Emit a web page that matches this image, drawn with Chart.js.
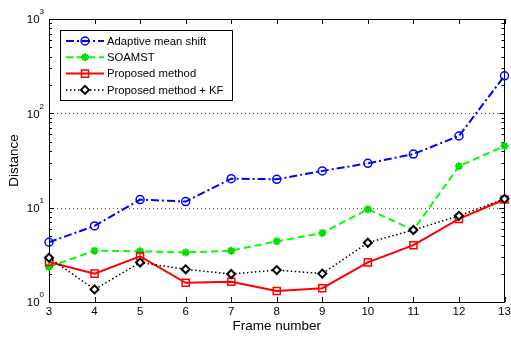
<!DOCTYPE html>
<html>
<head>
<meta charset="utf-8">
<script src="https://cdn.jsdelivr.net/npm/chart.js@4"></script>
<style>
  html, body { margin: 0; padding: 0; background: #fff; }
  #wrap { width: 511px; height: 337px; }
</style>
</head>
<body>
<div id="wrap"><canvas id="distChart" width="511" height="337"></canvas></div>
<script>
// data
var frames = ['3', '4', '5', '6', '7', '8', '9', '10', '11', '12', '13'];
var adaptiveMeanShift = [4.3, 6.4, 12.2, 11.6, 20.3, 20.0, 24.5, 29.5, 37, 57.5, 250];
var soamst = [2.35, 3.5, 3.45, 3.35, 3.5, 4.4, 5.4, 9.6, 5.8, 27.5, 45];
var proposed = [2.65, 2.0, 3.05, 1.6, 1.64, 1.31, 1.4, 2.63, 4.0, 7.6, 12.2];
var proposedKF = [2.95, 1.36, 2.62, 2.22, 1.98, 2.18, 2.0, 4.25, 5.8, 8.2, 12.4];
var yDecades = [1, 10, 100, 1000];

var FONT = '"Liberation Sans", Arial, sans-serif';

// box, inner ticks, dotted decade grid, y tick labels
var matlabAxes = {
  id: 'matlabAxes',
  beforeDatasetsDraw: function(chart) {
    var ctx = chart.ctx, a = chart.chartArea;
    var xs = chart.scales.x, ys = chart.scales.y;
    ctx.save();
    // dotted grid on decades
    ctx.strokeStyle = '#555';
    ctx.lineWidth = 1;
    ctx.setLineDash([1, 3]);
    yDecades.forEach(function(v) {
      var y = Math.round(ys.getPixelForValue(v)) + 0.5;
      if (y > a.top + 1 && y < a.bottom - 1) {
        ctx.beginPath(); ctx.moveTo(a.left, y); ctx.lineTo(a.right, y); ctx.stroke();
      }
    });
    ctx.setLineDash([]);
    ctx.strokeStyle = '#000';
    // x ticks (bottom and top)
    frames.forEach(function(f, i) {
      var x = Math.round(xs.getPixelForValue(i)) + 0.5;
      ctx.beginPath();
      ctx.moveTo(x, a.bottom); ctx.lineTo(x, a.bottom - 5);
      ctx.moveTo(x, a.top); ctx.lineTo(x, a.top + 5);
      ctx.stroke();
    });
    // y ticks, major + minor, left and right
    for (var d = 1; d < 1000; d *= 10) {
      for (var m = 1; m <= 10; m++) {
        var y = Math.round(ys.getPixelForValue(d * m)) + 0.5;
        var len = (m === 1 || m === 10) ? 5 : 3;
        ctx.beginPath();
        ctx.moveTo(a.left, y); ctx.lineTo(a.left + len, y);
        ctx.moveTo(a.right, y); ctx.lineTo(a.right - len, y);
        ctx.stroke();
      }
    }
    // box
    ctx.lineWidth = 1;
    ctx.strokeRect(Math.round(a.left) + 0.5, Math.round(a.top) + 0.5,
                   Math.round(a.right - a.left) - 1, Math.round(a.bottom - a.top));
    // y tick labels 10^n
    ctx.fillStyle = '#000';
    ctx.textBaseline = 'middle';
    yDecades.forEach(function(v, n) {
      var y = ys.getPixelForValue(v);
      ctx.font = '8px ' + FONT;
      ctx.textAlign = 'right';
      var exp = String(n);
      var ew = ctx.measureText(exp).width;
      ctx.fillText(exp, a.left - 5, y - 7);
      ctx.font = '11.5px ' + FONT;
      ctx.fillText('10', a.left - 5 - ew, y + 1);
    });
    ctx.restore();
  }
};

// legend box inside the axes
var matlabLegend = {
  id: 'matlabLegend',
  afterDraw: function(chart) {
    var ctx = chart.ctx;
    var bx = 60, by = 30, bw = 172, bh = 70;
    ctx.save();
    ctx.fillStyle = '#fff';
    ctx.fillRect(bx, by, bw, bh);
    ctx.strokeStyle = '#000';
    ctx.lineWidth = 1;
    ctx.strokeRect(bx + 0.5, by + 0.5, bw, bh);
    chart.data.datasets.forEach(function(ds, i) {
      var y = by + 11 + i * 16.3;
      ctx.strokeStyle = ds.borderColor;
      ctx.lineWidth = ds.borderWidth;
      ctx.setLineDash(ds.borderDash || []);
      ctx.beginPath(); ctx.moveTo(bx + 6, y); ctx.lineTo(bx + 44, y); ctx.stroke();
      ctx.setLineDash([]);
      ctx.fillStyle = ds.pointBackgroundColor;
      ctx.strokeStyle = ds.pointBorderColor;
      ctx.lineWidth = ds.pointBorderWidth;
      Chart.helpers.drawPoint(ctx, {
        pointStyle: ds.pointStyle, radius: ds.pointRadius,
        borderWidth: ds.pointBorderWidth, rotation: 0
      }, bx + 25, y);
      ctx.fillStyle = '#000';
      ctx.font = '11.3px ' + FONT;
      ctx.textAlign = 'left';
      ctx.textBaseline = 'middle';
      ctx.fillText(ds.label, bx + 47, y + 0.5);
    });
    ctx.restore();
  }
};

var ctx = document.getElementById('distChart').getContext('2d');
var myChart = new Chart(ctx, {
  type: 'line',
  data: {
    labels: frames,
    datasets: [{
      label: 'Adaptive mean shift',
      data: adaptiveMeanShift,
      borderColor: '#0000ff',
      borderWidth: 2,
      borderDash: [8, 3, 2, 3],
      pointStyle: 'circle',
      pointRadius: 4,
      pointBorderWidth: 1.5,
      pointBorderColor: '#0000ff',
      pointBackgroundColor: 'rgba(0,0,0,0)',
      order: 3
    }, {
      label: 'SOAMST',
      data: soamst,
      borderColor: '#00ff00',
      borderWidth: 2,
      borderDash: [7, 4],
      pointStyle: 'star',
      pointRadius: 4,
      pointBorderWidth: 2,
      pointBorderColor: '#00dd00',
      pointBackgroundColor: '#00ff00',
      order: 2
    }, {
      label: 'Proposed method',
      data: proposed,
      borderColor: '#ff0000',
      borderWidth: 2,
      pointStyle: 'rect',
      pointRadius: 5,
      pointBorderWidth: 1.5,
      pointBorderColor: '#ff0000',
      pointBackgroundColor: 'rgba(0,0,0,0)',
      order: 1
    }, {
      label: 'Proposed method + KF',
      data: proposedKF,
      borderColor: '#000000',
      borderWidth: 1.5,
      borderDash: [1.5, 2.5],
      pointStyle: 'rectRot',
      pointRadius: 4,
      pointBorderWidth: 2,
      pointBorderColor: '#000000',
      pointBackgroundColor: '#ffffff',
      order: 0
    }]
  },
  options: {
    responsive: false,
    animation: false,
    layout: { padding: { top: 19, right: 2, left: 0, bottom: 0 } },
    plugins: {
      legend: { display: false },
      tooltip: { enabled: false }
    },
    elements: { line: { tension: 0 } },
    scales: {
      x: {
        type: 'category',
        offset: false,
        grid: { display: false, drawTicks: false },
        border: { display: false },
        ticks: { color: '#000', font: { family: FONT, size: 11.5 }, padding: 3, maxRotation: 0, autoSkip: false },
        title: { display: true, text: 'Frame number', color: '#000', font: { family: FONT, size: 13.5 }, padding: { top: 2, bottom: 3 } },
        afterFit: function(scale) {
          scale.height = 35;
          scale.paddingLeft = 0;
          scale.paddingRight = 0;
        }
      },
      y: {
        type: 'logarithmic',
        min: 1,
        max: 1000,
        grid: { display: false, drawTicks: false },
        border: { display: false },
        ticks: { display: false },
        title: { display: true, text: 'Distance', color: '#000', font: { family: FONT, size: 13.5 }, padding: { top: 6, bottom: 2 } },
        afterFit: function(scale) {
          scale.width = 49;
          scale.paddingTop = 0;
          scale.paddingBottom = 0;
        }
      }
    }
  },
  plugins: [matlabAxes, matlabLegend]
});
</script>
</body>
</html>
